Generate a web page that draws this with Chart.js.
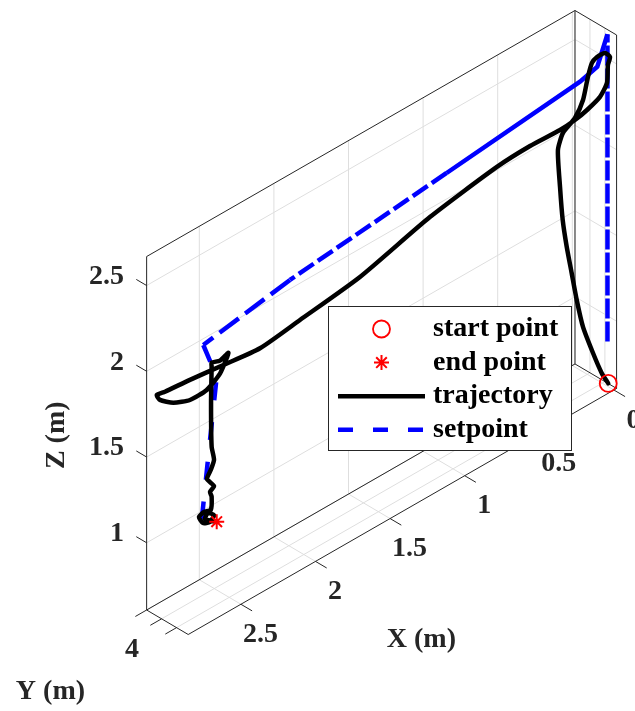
<!DOCTYPE html>
<html>
<head>
<meta charset="utf-8">
<script src="https://cdn.jsdelivr.net/npm/chart.js@4.4.1/dist/chart.umd.min.js"></script>
<style>
  html, body { margin: 0; padding: 0; background: #fff; }
  #wrap { width: 635px; height: 711px; position: relative; }
</style>
</head>
<body>
<div id="wrap"><canvas id="chart"></canvas></div>
<script>
// axis limits and ticks (m)
const xLim = [-0.018, 2.853];
const yLim = [3.9, 4.178];
const zLim = [0.608, 2.669];
const xTicks = [0, 0.5, 1, 1.5, 2, 2.5];
const xTickLabels = ['0', '0.5', '1', '1.5', '2', '2.5'];
const yTicks = [3.9, 4, 4.1];
const yTickLabels = ['', '4', ''];
const zTicks = [1, 1.5, 2, 2.5];
const zTickLabels = ['1', '1.5', '2', '2.5'];

// flown trajectory
const trajX = [-0.005, 0.039, 0.097, 0.164, 0.206, 0.240, 0.273, 0.300, 0.318, 0.332,
  0.298, 0.218, 0.164, 0.131, 0.104, 0.070, 0.017, -0.017, -0.003, 0.003,
  0.050, 0.137, 0.218, 0.318, 0.519, 0.741, 1.190, 1.659, 2.061, 2.329,
  2.506, 2.646, 2.763, 2.799, 2.786, 2.730, 2.660, 2.604, 2.570, 2.548,
  2.541, 2.597, 2.653, 2.653, 2.657, 2.653, 2.637, 2.659,
  2.684, 2.637, 2.664, 2.653, 2.659,
  2.704, 2.738, 2.711, 2.664, 2.637, 2.678, 2.698, 2.651, 2.619];
const trajY = [4.135, 4.135, 4.135, 4.135, 4.135, 4.135, 4.135, 4.135, 4.135, 4.135,
  4.135, 4.135, 4.135, 4.135, 4.135, 4.135, 4.135, 4.135, 4.135, 4.135,
  4.135, 4.135, 4.135, 4.135, 4.135, 4.135, 4.135, 4.135, 4.135, 4.135,
  4.067, 3.983, 3.933, 3.914, 3.922, 3.956, 3.997, 4.053, 4.109, 4.135,
  4.135, 4.135, 4.135, 4.135, 4.135, 4.135, 4.135, 4.135,
  4.135, 4.135, 4.135, 4.135, 4.135,
  4.135, 4.135, 4.135, 4.135, 4.135, 4.135, 4.135, 4.135, 4.135];
const trajZ = [0.622, 0.705, 0.850, 1.036, 1.214, 1.388, 1.557, 1.727, 1.929, 2.151,
  2.234, 2.281, 2.359, 2.477, 2.545, 2.563, 2.560, 2.519, 2.480, 2.378,
  2.320, 2.287, 2.269, 2.261, 2.268, 2.257, 2.189, 2.074, 2.024, 1.993,
  1.949, 1.889, 1.853, 1.842, 1.811, 1.784, 1.786, 1.845, 1.954, 2.054,
  2.073, 2.055, 2.071, 2.048, 1.838, 1.581, 1.496, 1.448,
  1.408, 1.344, 1.323, 1.290, 1.215,
  1.226, 1.214, 1.165, 1.148, 1.175, 1.207, 1.182, 1.147, 1.127];

// commanded setpoint
const setX = [0, 0, 0.068, 0.184, 1.078, 2.128, 2.709, 2.619, 2.671, 2.720];
const setY = [4.135, 4.135, 4.135, 4.135, 4.135, 4.135, 4.135, 4.135, 4.135, 4.135];
const setZ = [0.868, 2.660, 2.505, 2.476, 2.390, 2.291, 2.202, 1.972, 1.571, 1.182];

const seriesNames = ['start point', 'end point', 'trajectory', 'setpoint'];

// dash used on each setpoint segment (dense samples look solid in the original)
const setDash = [[20, 3], [], [], [], [18, 5], [24, 8], [18, 22], [18, 22], [18, 22]];

// fixed 3D view: screen position of (0, yMin, zMin) and screen steps per axis
const view = { ox: 572.3, oy: 365.5, ex: [-149.2, 85.7], ey: [41.6, 24.5], ez: -171.5 };

function project(x, y, z) {
  const ty = (y - yLim[0]) / (yLim[1] - yLim[0]);
  return {
    x: view.ox + view.ex[0] * x + view.ey[0] * ty,
    y: view.oy + view.ex[1] * x + view.ey[1] * ty + view.ez * (z - zLim[0])
  };
}
const toPoints = (xs, ys, zs) => xs.map((x, i) => project(x, ys[i], zs[i]));

const trajPts = toPoints(trajX, trajY, trajZ);
const setPts = toPoints(setX, setY, setZ);
const last = trajX.length - 1;

const FONT = 'bold 28px "Liberation Serif", "Times New Roman", serif';
const AXIS_COLOR = '#262626';

const axes3d = {
  id: 'axes3d',
  beforeDatasetsDraw(chart) {
    const { ctx } = chart;
    const sx = chart.scales.x, sy = chart.scales.y;
    const px = (X, Y, Z) => {
      const p = project(X, Y, Z);
      return [sx.getPixelForValue(p.x), sy.getPixelForValue(p.y)];
    };
    const line = (a, b) => {
      ctx.beginPath();
      ctx.moveTo(a[0], a[1]);
      ctx.lineTo(b[0], b[1]);
      ctx.stroke();
    };
    const unit = (a, b, len) => {
      const dx = b[0] - a[0], dy = b[1] - a[1];
      const d = Math.hypot(dx, dy);
      return [dx / d * len, dy / d * len];
    };
    const [x0, x1] = xLim, [y0, y1] = yLim, [z0, z1] = zLim;

    ctx.save();
    // grid on the three back planes
    ctx.lineWidth = 1;
    ctx.strokeStyle = '#dedede';
    xTicks.forEach(v => {
      line(px(v, y0, z0), px(v, y0, z1));
      line(px(v, y0, z0), px(v, y1, z0));
    });
    yTicks.forEach(v => {
      line(px(x0, v, z0), px(x0, v, z1));
      line(px(x0, v, z0), px(x1, v, z0));
    });
    zTicks.forEach(v => {
      line(px(x0, y0, v), px(x1, y0, v));
      line(px(x0, y0, v), px(x0, y1, v));
    });

    // box edges
    ctx.strokeStyle = AXIS_COLOR;
    const edges = [
      [[x1, y0, z0], [x1, y0, z1]],
      [[x1, y0, z1], [x0, y0, z1]],
      [[x0, y0, z1], [x0, y0, z0]],
      [[x0, y0, z0], [x1, y0, z0]],
      [[x0, y0, z1], [x0, y1, z1]],
      [[x0, y1, z1], [x0, y1, z0]],
      [[x0, y1, z0], [x0, y0, z0]],
      [[x0, y1, z0], [x1, y1, z0]],
      [[x1, y1, z0], [x1, y0, z0]]
    ];
    edges.forEach(([a, b]) => line(px(...a), px(...b)));

    // ticks + labels
    ctx.font = FONT;
    ctx.fillStyle = AXIS_COLOR;
    ctx.textBaseline = 'middle';

    const xDir = unit(px(0, y0, z0), px(0, y1, z0), 13);
    ctx.textAlign = 'center';
    xTicks.forEach((v, i) => {
      const p = px(v, y1, z0);
      line(p, [p[0] + xDir[0], p[1] + xDir[1]]);
      ctx.fillText(xTickLabels[i], p[0] + 19.5, p[1] + 30.5);
    });

    const yDir = unit(px(0, y0, z0), px(1, y0, z0), 13);
    yTicks.forEach((v, i) => {
      const p = px(x1, v, z0);
      line(p, [p[0] + yDir[0], p[1] + yDir[1]]);
      if (yTickLabels[i]) ctx.fillText(yTickLabels[i], p[0] - 29.6, p[1] + 31.2);
    });

    const zDir = unit(px(0, y1, z0), px(0, y0, z0), 12);
    ctx.textAlign = 'right';
    zTicks.forEach((v, i) => {
      const p = px(x1, y0, v);
      line(p, [p[0] + zDir[0], p[1] + zDir[1]]);
      ctx.fillText(zTickLabels[i], p[0] - 22.7, p[1] - 9);
    });

    // axis titles
    ctx.textAlign = 'center';
    const xm = px((x0 + x1) / 2, y1, z0);
    ctx.fillText('X (m)', xm[0] + 19, xm[1] + 128);
    const ym = px(x1, (y0 + y1) / 2, z0);
    ctx.fillText('Y (m)', ym[0] - 117, ym[1] + 70);
    const zm = px(x1, y0, (z0 + z1) / 2);
    ctx.translate(zm[0] - 90, zm[1] + 2);
    ctx.rotate(-Math.PI / 2);
    ctx.fillText('Z (m)', 0, 0);
    ctx.restore();
  }
};

const legendBox = {
  id: 'legendBox',
  afterDatasetsDraw(chart) {
    const { ctx } = chart;
    const box = { left: 328, top: 306, width: 243, height: 144 };
    ctx.save();
    ctx.fillStyle = '#ffffff';
    ctx.fillRect(box.left, box.top, box.width, box.height);
    ctx.strokeStyle = AXIS_COLOR;
    ctx.lineWidth = 1;
    ctx.strokeRect(box.left + 0.5, box.top + 0.5, box.width, box.height);

    ctx.font = FONT;
    ctx.textAlign = 'left';
    ctx.textBaseline = 'alphabetic';
    chart.data.datasets.forEach((ds, i) => {
      const base = box.top + 30 + i * 33.6;
      const my = base - 7;
      if (ds.showLine) {
        ctx.save();
        ctx.strokeStyle = ds.borderColor;
        ctx.lineWidth = ds.borderWidth;
        ctx.setLineDash(ds.borderDash || []);
        ctx.beginPath();
        ctx.moveTo(box.left + 10, my);
        ctx.lineTo(box.left + 97, my);
        ctx.stroke();
        ctx.restore();
      } else {
        ctx.strokeStyle = ds.borderColor;
        ctx.fillStyle = ds.backgroundColor;
        ctx.lineWidth = ds.pointBorderWidth;
        Chart.helpers.drawPoint(ctx, {
          pointStyle: ds.pointStyle, radius: ds.pointRadius, rotation: 0, borderWidth: ds.pointBorderWidth
        }, box.left + 53.5, my);
      }
      ctx.fillStyle = '#000000';
      ctx.fillText(ds.label, box.left + 105, base);
    });
    ctx.restore();
  }
};

new Chart(document.getElementById('chart'), {
  type: 'scatter',
  data: {
    datasets: [
      {
        label: seriesNames[0],
        data: [trajPts[0]],
        pointStyle: 'circle',
        pointRadius: 8.5,
        pointBorderWidth: 1.8,
        borderColor: '#ff0000',
        backgroundColor: 'rgba(0,0,0,0)',
        showLine: false
      },
      {
        label: seriesNames[1],
        data: [trajPts[last]],
        pointStyle: 'star',
        pointRadius: 7.5,
        pointBorderWidth: 2,
        borderColor: '#ff0000',
        backgroundColor: 'rgba(0,0,0,0)',
        showLine: false
      },
      {
        label: seriesNames[2],
        data: trajPts,
        showLine: true,
        borderColor: '#000000',
        borderWidth: 4.5,
        pointRadius: 0,
        tension: 0.2,
        borderCapStyle: 'round',
        borderJoinStyle: 'round'
      },
      {
        label: seriesNames[3],
        data: setPts,
        showLine: true,
        borderColor: '#0000ff',
        borderWidth: 4.5,
        borderDash: [15, 20],
        pointRadius: 0,
        tension: 0,
        segment: {
          borderDash: c => setDash[c.p0DataIndex] || [15, 20]
        }
      }
    ]
  },
  options: {
    responsive: true,
    maintainAspectRatio: false,
    animation: false,
    events: [],
    layout: { padding: 0, autoPadding: false },
    plugins: {
      legend: { display: false },
      tooltip: { enabled: false }
    },
    scales: {
      x: { type: 'linear', min: 0, max: 635, display: false },
      y: { type: 'linear', min: 0, max: 711, reverse: true, display: false }
    }
  },
  plugins: [axes3d, legendBox]
});
</script>
</body>
</html>
